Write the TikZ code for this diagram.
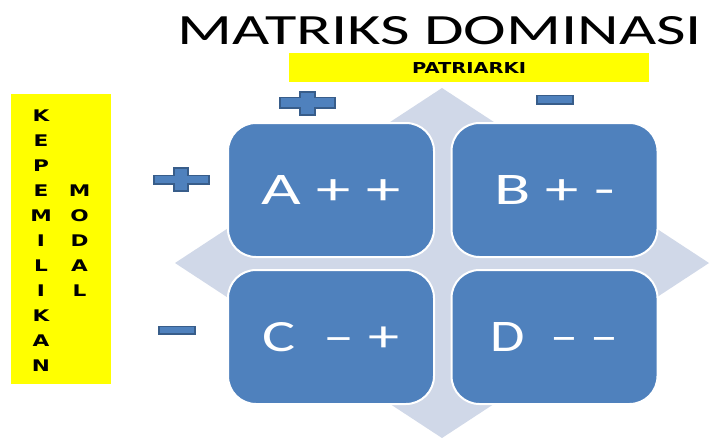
\documentclass[tikz,border=0pt]{standalone}
\usepackage{fontspec}
\setmainfont{Carlito}
\newfontfamily\dvs{DejaVu Sans}
\usepackage{graphicx}
\definecolor{boxblue}{HTML}{4F81BD}
\definecolor{bordblue}{HTML}{385D8A}
\definecolor{diam}{HTML}{D0D8E8}
\definecolor{yel}{HTML}{FFFF00}
\begin{document}
\begin{tikzpicture}[x=1pt,y=-1pt,
  cell/.style={draw=white,line width=2pt,fill=boxblue,rounded corners=28pt,
    minimum width=206pt,minimum height=134pt,inner sep=0pt,text=white},
  sign/.style={fill=boxblue,draw=bordblue,line width=1.3pt},
  letter/.style={font=\dvs\bfseries\fontsize{16}{16}\selectfont,inner sep=0pt},
  yelbox/.style={fill=yel,inner sep=0pt}]
\useasboundingbox (0,0) rectangle (710,437);
\clip (0,0) rectangle (710,437);
\fill[white] (0,0) rectangle (710,437);
% background diamond
\fill[diam] (442,88) -- (709,263) -- (442,438) -- (175,263) -- cycle;
% quadrants
\node[cell] (A) at (331,190) {\resizebox{139pt}{29pt}{A + +}};
\node[cell] (B) at (554.5,190) {\resizebox{120pt}{29pt}{B + -}};
\node[cell] (C) at (331,337) {\resizebox{137pt}{29pt}{C\ \ – +}};
\node[cell] (D) at (554.5,337) {\resizebox{128pt}{29pt}{D\ \ – –}};
% title
\node[inner sep=0pt] (title) at (440,31) {\resizebox{524pt}{28pt}{MATRIKS DOMINASI}};
% patriarki
\node[yelbox,minimum width=360pt,minimum height=29pt] (pat) at (469,67.5)
  {\resizebox{114pt}{11pt}{\dvs\bfseries PATRIARKI}};
% left yellow box
\node[yelbox,minimum width=100pt,minimum height=290pt] (kep) at (61,239) {};
\foreach \l [count=\i from 0] in {K,E,P,E,M,I,L,I,K,A,N}
  \node[letter] (k\i) at (41,116+25*\i) {\scalebox{1.35}[1]{\l}};
\foreach \l [count=\i from 0] in {M,O,D,A,L}
  \node[letter] (m\i) at (79.5,191+25*\i) {\scalebox{1.35}[1]{\l}};
% signs
\draw[sign] (280,97.5) -- (300,97.5) -- (300,92) -- (315,92) -- (315,97.5) -- (335,97.5)
  -- (335,108) -- (315,108) -- (315,115) -- (300,115) -- (300,108) -- (280,108) -- cycle;
\draw[sign] (537,95.5) rectangle (573,104);
\draw[sign] (154,175.5) -- (174,175.5) -- (174,168) -- (188,168) -- (188,175.5) -- (209,175.5)
  -- (209,184) -- (188,184) -- (188,191) -- (174,191) -- (174,184) -- (154,184) -- cycle;
\draw[sign] (159,326.5) rectangle (195,334);
\end{tikzpicture}
\end{document}
